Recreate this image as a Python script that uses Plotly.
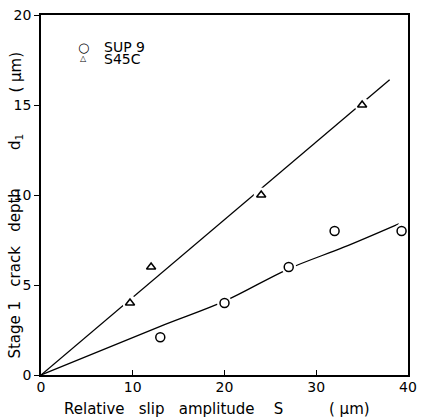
import plotly.graph_objects as go

# Data
sup9_x = [13, 20, 27, 32, 39.3]
sup9_y = [2.1, 4.0, 6.0, 8.0, 8.0]
s45c_x = [9.7, 12, 24, 35]
s45c_y = [4.0, 6.0, 10.0, 15.0]
# Fitted curves
sup9_fit_x = [0, 13, 20, 27, 33, 39]
sup9_fit_y = [0, 2.7, 4.1, 5.9, 7.1, 8.4]
s45c_fit_x = [0, 38]
s45c_fit_y = [0, 16.4]

x_ticks = [0, 10, 20, 30, 40]
y_ticks = [0, 5, 10, 15, 20]

FONT = "DejaVu Sans"
NB = "\u00a0"
fig = go.Figure()

fig.add_trace(go.Scatter(x=s45c_fit_x, y=s45c_fit_y, mode="lines",
                         line=dict(color="black", width=1.3), showlegend=False))
fig.add_trace(go.Scatter(x=sup9_fit_x, y=sup9_fit_y, mode="lines",
                         line=dict(color="black", width=1.3, shape="spline"), showlegend=False))
# white halos (gaps in lines around markers)
fig.add_trace(go.Scatter(x=sup9_x + s45c_x, y=sup9_y + s45c_y, mode="markers",
                         marker=dict(color="white", size=15, symbol="circle"),
                         showlegend=False, hoverinfo="skip"))
fig.add_trace(go.Scatter(x=sup9_x, y=sup9_y, mode="markers", name="SUP9",
                         marker=dict(symbol="circle-open", size=9, color="black",
                                     line=dict(width=1.5, color="black")),
                         showlegend=False, cliponaxis=False))
fig.add_trace(go.Scatter(x=s45c_x, y=s45c_y, mode="markers", name="S45C",
                         marker=dict(symbol="triangle-up-open", size=8, color="black",
                                     line=dict(width=1.5, color="black")),
                         showlegend=False, cliponaxis=False))

plot_l, plot_r, plot_t, plot_b = 41, 417, 15, 375
W, H = 421, 419
def px(xp):
    return (xp - plot_l) / (plot_r - plot_l)
def py(yp_from_top):
    return (plot_b - yp_from_top) / (plot_b - plot_t)

ylab = ("Stage" + NB + "1" + NB * 3 + "crack" + NB * 3 + "depth" + NB * 8
        + "d<sub>1</sub>")
xlab = "Relative" + NB * 3 + "slip" + NB * 3 + "amplitude" + NB * 4 + "S"

anns = []
anns.append(dict(text="○", x=px(85), y=py(47), font=dict(size=13)))
anns.append(dict(text="SUP" + NB + "9", x=px(104), y=py(47), xanchor="left", font=dict(size=14)))
anns.append(dict(text="△", x=px(85), y=py(58), font=dict(size=8)))
anns.append(dict(text="S45C", x=px(104), y=py(59), xanchor="left", font=dict(size=14)))
anns.append(dict(text=ylab, x=px(15), y=py(246), textangle=-90, font=dict(size=15)))
anns.append(dict(text="(" + NB + "μm)", x=px(15), y=py(72), textangle=-90, font=dict(size=15)))
anns.append(dict(text=xlab, x=px(63), y=py(409), xanchor="left", font=dict(size=15)))
anns.append(dict(text="(" + NB + "μm)", x=px(357), y=py(409), font=dict(size=15)))
for a in anns:
    a.update(xref="paper", yref="paper", showarrow=False)
    a.setdefault("xanchor", "center")
    a["yanchor"] = "middle"
    a["font"].update(family=FONT, color="black")

fig.update_layout(
    width=W, height=H,
    margin=dict(l=plot_l, r=W - plot_r, t=plot_t, b=H - plot_b),
    paper_bgcolor="white", plot_bgcolor="white",
    font=dict(family=FONT, color="black", size=14),
    showlegend=False,
    annotations=anns,
    xaxis=dict(range=[0, 40], tickvals=x_ticks, ticks="inside", ticklen=5,
               tickwidth=1.3, tickcolor="black", showgrid=False, zeroline=False,
               showline=True, linecolor="black", linewidth=1.8, mirror=True,
               ticklabelstandoff=-2, ticklabeloverflow="allow",
               tickfont=dict(size=14, family=FONT)),
    yaxis=dict(range=[0, 20], tickvals=y_ticks, ticks="outside", ticklen=5,
               tickwidth=1.3, tickcolor="black", showgrid=False, zeroline=False,
               showline=True, linecolor="black", linewidth=1.8, mirror=True,
               ticklabelstandoff=0, ticklabeloverflow="allow",
               tickfont=dict(size=14, family=FONT)),
)

fig.write_html("out.html", config={"displayModeBar": False},
               post_script="document.body.style.margin='0';document.body.style.overflow='hidden';")
